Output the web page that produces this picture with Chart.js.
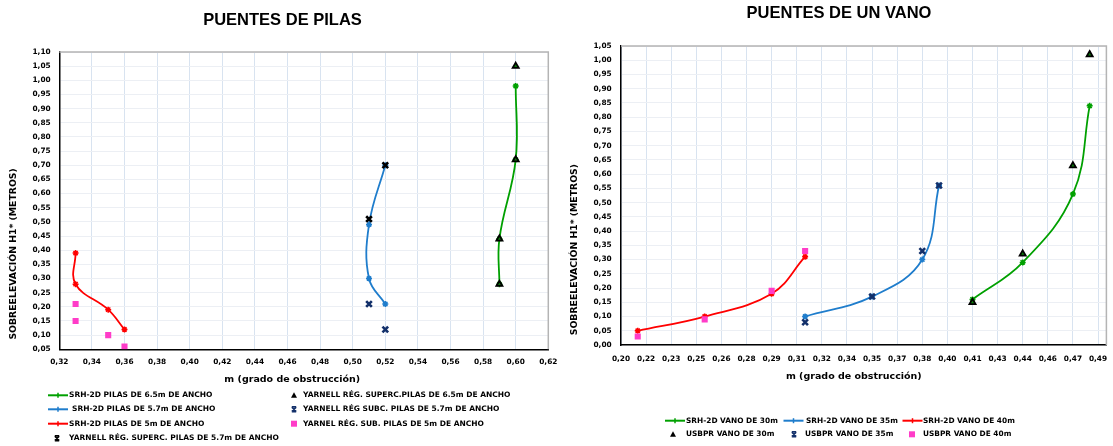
<!DOCTYPE html>
<html><head><meta charset="utf-8">
<script src="https://cdn.jsdelivr.net/npm/chart.js@4.4.0/dist/chart.umd.min.js"></script>
<style>
html,body{margin:0;padding:0;background:#fff;overflow:hidden;}
#wrap{position:relative;width:1113px;height:446px;}
canvas{position:absolute;top:0;}
#c1{left:0;} #c2{left:565px;}
</style></head><body>
<div id="wrap"><canvas id="c1" width="565" height="446"></canvas><canvas id="c2" width="548" height="446"></canvas></div>
<script>
// ---------- PUENTES DE PILAS ----------
const pilasSrh65X = [0.60, 0.60, 0.59, 0.59];
const pilasSrh65Y = [0.98, 0.72, 0.44, 0.28];
const pilasYarSup65X = [0.60, 0.60, 0.59, 0.59];
const pilasYarSup65Y = [1.05, 0.72, 0.44, 0.28];
const pilasSrh57X = [0.52, 0.51, 0.51, 0.52];
const pilasSrh57Y = [0.70, 0.49, 0.30, 0.21];
const pilasYarSup57X = [0.52, 0.51];
const pilasYarSup57Y = [0.70, 0.51];
const pilasYarSub57X = [0.51, 0.52];
const pilasYarSub57Y = [0.21, 0.12];
const pilasSrh5X = [0.33, 0.33, 0.35, 0.36];
const pilasSrh5Y = [0.39, 0.28, 0.19, 0.12];
const pilasYarSub5X = [0.33, 0.33, 0.35, 0.36];
const pilasYarSub5Y = [0.21, 0.15, 0.10, 0.06];
const pilasXTicks = [0.32,0.34,0.36,0.38,0.40,0.42,0.44,0.46,0.48,0.50,0.52,0.54,0.56,0.58,0.60,0.62];
const pilasXTickLabels = ['0,32','0,34','0,36','0,38','0,40','0,42','0,44','0,46','0,48','0,50','0,52','0,54','0,56','0,58','0,60','0,62'];

// ---------- PUENTES DE UN VANO ----------
const vanoSrh30X = [0.41, 0.44, 0.47, 0.48];
const vanoSrh30Y = [0.16, 0.29, 0.53, 0.84];
const vanoUsb30X = [0.41, 0.44, 0.47, 0.48];
const vanoUsb30Y = [0.15, 0.32, 0.63, 1.02];
const vanoSrh35X = [0.31, 0.35, 0.38, 0.39];
const vanoSrh35Y = [0.10, 0.17, 0.30, 0.56];
const vanoUsb35X = [0.31, 0.35, 0.38, 0.39];
const vanoUsb35Y = [0.08, 0.17, 0.33, 0.56];
const vanoSrh40X = [0.21, 0.25, 0.29, 0.31];
const vanoSrh40Y = [0.05, 0.10, 0.18, 0.31];
const vanoUsb40X = [0.21, 0.25, 0.29, 0.31];
const vanoUsb40Y = [0.03, 0.09, 0.19, 0.33];
const vanoXTicks = [0.20,0.215,0.23,0.245,0.26,0.275,0.29,0.305,0.32,0.335,0.35,0.365,0.38,0.395,0.41,0.425,0.44,0.455,0.47,0.485];
const vanoXTickLabels = ['0,20','0,22','0,23','0,25','0,26','0,28','0,29','0,31','0,32','0,34','0,35','0,37','0,38','0,40','0,41','0,43','0,44','0,46','0,47','0,49'];

const GREEN = '#00a000', BLUE = '#1f7dcc', RED = '#ff0000', NAVY = '#13306a', PINK = '#ff3cc8', BLACK = '#000000';
const FONT = 'DejaVu Sans';

function pts(xs, ys) { return xs.map((x, i) => ({x: x, y: ys[i]})); }
function lineDs(label, xs, ys, color) {
  return {label, data: pts(xs, ys), showLine: true, borderColor: color, backgroundColor: color,
    borderWidth: 1.8, tension: 0.4, pointStyle: 'star', pointRadius: 3, pointBorderWidth: 1.5};
}
function markDs(label, xs, ys, style, color, fill, r, bw) {
  return {label, data: pts(xs, ys), showLine: false, pointStyle: style, pointRadius: r,
    borderColor: color, backgroundColor: fill, pointBorderWidth: bw};
}

const framePlugin = {
  id: 'frame',
  beforeDatasetsDraw(chart) {
    const {ctx, chartArea: a} = chart;
    ctx.save();
    ctx.strokeStyle = '#b4b4b4'; ctx.lineWidth = 1.5;
    ctx.beginPath(); ctx.moveTo(a.left, a.top); ctx.lineTo(a.right, a.top); ctx.lineTo(a.right, a.bottom); ctx.stroke();
    ctx.restore();
  }
};

function drawMark(ctx, k, x, y, c) {
  ctx.save();
  ctx.strokeStyle = c; ctx.fillStyle = c;
  if (k === 'line') {
    ctx.lineWidth = 2; ctx.beginPath(); ctx.moveTo(x - 10, y); ctx.lineTo(x + 10, y); ctx.stroke();
    ctx.lineWidth = 1.5; ctx.beginPath(); ctx.moveTo(x, y - 2.5); ctx.lineTo(x, y + 2.5); ctx.stroke();
  } else if (k === 'tri') {
    ctx.beginPath(); ctx.moveTo(x, y - 3); ctx.lineTo(x + 3, y + 2.5); ctx.lineTo(x - 3, y + 2.5); ctx.closePath(); ctx.fill();
  } else if (k === 'x') {
    ctx.lineWidth = 1.6; ctx.beginPath();
    ctx.moveTo(x - 2.2, y - 2.2); ctx.lineTo(x + 2.2, y + 2.2); ctx.moveTo(x + 2.2, y - 2.2); ctx.lineTo(x - 2.2, y + 2.2);
    ctx.moveTo(x - 2.2, y - 2.5); ctx.lineTo(x + 2.2, y - 2.5); ctx.moveTo(x - 2.2, y + 2.5); ctx.lineTo(x + 2.2, y + 2.5);
    ctx.stroke();
  } else if (k === 'sq') {
    ctx.fillRect(x - 3, y - 3, 6, 6);
  }
  ctx.restore();
}
function legendPlugin(items, size) {
  return {
    id: 'customLegend',
    afterDraw(chart) {
      const ctx = chart.ctx;
      ctx.save();
      ctx.font = 'bold ' + size + 'px "' + FONT + '"';
      ctx.textBaseline = 'middle'; ctx.textAlign = 'left'; ctx.fillStyle = '#000';
      items.forEach(it => { drawMark(ctx, it.k, it.mx, it.y, it.c); ctx.fillText(it.t, it.tx, it.y); });
      ctx.restore();
    }
  };
}

function baseOptions(o) {
  return {
    responsive: false, animation: false, devicePixelRatio: 1,
    layout: {padding: 0},
    plugins: {
      legend: {display: false}, tooltip: {enabled: false},
      title: {display: true, text: o.title, color: '#000',
        font: {family: 'Liberation Sans', size: o.titleSize, weight: 'bold', lineHeight: 1.2},
        padding: {top: o.titleTop, bottom: o.titleBottom}}
    },
    scales: {
      x: {type: 'linear', min: o.xmin, max: o.xmax,
        afterBuildTicks: s => { s.ticks = o.xTicks.map(v => ({value: v})); },
        afterFit: s => { s.height = o.xHeight; s.paddingLeft = 0; s.paddingRight = 0; },
        ticks: {autoSkip: false, maxRotation: 0, minRotation: 0, padding: o.xTickPad, color: '#000',
          font: {family: FONT, size: 7.4, weight: 'bold'}, callback: (v, i) => o.xLabels[i]},
        grid: {color: '#d8e3f0', lineWidth: 1, drawTicks: false},
        border: {display: true, color: '#000', width: 1.5},
        title: {display: true, text: o.xTitle, color: '#000',
          font: {family: FONT, size: 9.5, weight: 'bold', lineHeight: 1.2}, padding: {top: 0, bottom: o.xTitleBottom}}
      },
      y: {type: 'linear', min: o.ymin, max: o.ymax,
        afterFit: s => { s.width = o.yWidth; s.paddingTop = 0; s.paddingBottom = 0; },
        ticks: {stepSize: 0.05, padding: o.yTickPad, color: '#000',
          font: {family: FONT, size: 7.4, weight: 'bold'},
          callback: v => v.toFixed(2).replace('.', ',')},
        grid: {color: '#eceff4', lineWidth: 1, drawTicks: false},
        border: {display: true, color: '#000', width: 1.5},
        title: {display: true, text: o.yTitle, align: 'start', color: '#000',
          font: {family: FONT, size: 9.3, weight: 'bold', lineHeight: 1.2}, padding: {top: o.yTitleTop, bottom: 0}}
      },
      yRightSpace: {type: 'linear', position: 'right', display: true,
        afterFit: s => { s.width = o.padRight; s.paddingTop = 0; s.paddingBottom = 0; },
        ticks: {display: false}, grid: {display: false}, border: {display: false}, title: {display: false}
      }
    }
  };
}

// Left chart
const pilasLegend = [
  {t: 'SRH-2D PILAS DE 6.5m DE ANCHO', k: 'line', c: GREEN, mx: 58, tx: 69, y: 395.3},
  {t: 'YARNELL RÉG. SUPERC.PILAS DE 6.5m DE ANCHO', k: 'tri', c: BLACK, mx: 294, tx: 303, y: 395.3},
  {t: 'SRH-2D PILAS DE 5.7m DE ANCHO', k: 'line', c: BLUE, mx: 58, tx: 72, y: 409.3},
  {t: 'YARNELL RÉG SUBC. PILAS DE 5.7m DE ANCHO', k: 'x', c: NAVY, mx: 294, tx: 303, y: 409.3},
  {t: 'SRH-2D PILAS DE 5m DE ANCHO', k: 'line', c: RED, mx: 58, tx: 69, y: 423.7},
  {t: 'YARNEL RÉG. SUB. PILAS DE 5m DE ANCHO', k: 'sq', c: PINK, mx: 294, tx: 303, y: 423.7},
  {t: 'YARNELL RÉG. SUPERC. PILAS DE 5.7m DE ANCHO', k: 'x', c: BLACK, mx: 57, tx: 69, y: 438.3}
];
new Chart(document.getElementById('c1'), {
  type: 'scatter',
  data: {datasets: [
    markDs('YARNELL RÉG. SUPERC.PILAS DE 6.5m DE ANCHO', pilasYarSup65X, pilasYarSup65Y, 'triangle', BLACK, '#0a7a0a', 3.5, 1.8),
    markDs('YARNELL RÉG. SUPERC. PILAS DE 5.7m DE ANCHO', pilasYarSup57X, pilasYarSup57Y, 'crossRot', BLACK, BLACK, 4, 2.6),
    markDs('YARNELL RÉG SUBC. PILAS DE 5.7m DE ANCHO', pilasYarSub57X, pilasYarSub57Y, 'crossRot', NAVY, NAVY, 4, 2.6),
    markDs('YARNEL RÉG. SUB. PILAS DE 5m DE ANCHO', pilasYarSub5X, pilasYarSub5Y, 'rect', PINK, PINK, 4.3, 0),
    lineDs('SRH-2D PILAS DE 6.5m DE ANCHO', pilasSrh65X, pilasSrh65Y, GREEN),
    lineDs('SRH-2D PILAS DE 5.7m DE ANCHO', pilasSrh57X, pilasSrh57Y, BLUE),
    lineDs('SRH-2D PILAS DE 5m DE ANCHO', pilasSrh5X, pilasSrh5Y, RED)
  ]},
  options: baseOptions({
    title: 'PUENTES DE PILAS', titleSize: 16.5, titleTop: 10.1, titleBottom: 22.1, padRight: 16.7,
    xmin: 0.32, xmax: 0.62, xTicks: pilasXTicks, xLabels: pilasXTickLabels, xHeight: 96.7, xTickPad: 8.5,
    xTitle: 'm (grado de obstrucción)       ', xTitleBottom: 60.3,
    ymin: 0.05, ymax: 1.10, yWidth: 59.3, yTickPad: 8.6, yTitle: '   SOBREELEVACIÓN H1* (METROS)', yTitleTop: 7.7
  }),
  plugins: [framePlugin, legendPlugin(pilasLegend, 7.5)]
});

// Right chart
const vanoLegend = [
  {t: 'SRH-2D VANO DE 30m', k: 'line', c: GREEN, mx: 110, tx: 121, y: 420.7},
  {t: 'SRH-2D VANO DE 35m', k: 'line', c: BLUE, mx: 228.5, tx: 241, y: 420.7},
  {t: 'SRH-2D VANO DE 40m', k: 'line', c: RED, mx: 347.5, tx: 358, y: 420.7},
  {t: 'USBPR VANO DE 30m', k: 'tri', c: BLACK, mx: 108, tx: 121, y: 434.3},
  {t: 'USBPR VANO DE 35m', k: 'x', c: NAVY, mx: 229, tx: 240, y: 434.3},
  {t: 'USBPR VANO DE 40m', k: 'sq', c: PINK, mx: 347, tx: 358, y: 434.3}
];
new Chart(document.getElementById('c2'), {
  type: 'scatter',
  data: {datasets: [
    markDs('USBPR VANO DE 30m', vanoUsb30X, vanoUsb30Y, 'triangle', BLACK, '#0a7a0a', 3.5, 1.8),
    markDs('USBPR VANO DE 35m', vanoUsb35X, vanoUsb35Y, 'crossRot', NAVY, NAVY, 4, 2.6),
    markDs('USBPR VANO DE 40m', vanoUsb40X, vanoUsb40Y, 'rect', PINK, PINK, 4.3, 0),
    lineDs('SRH-2D VANO DE 30m', vanoSrh30X, vanoSrh30Y, GREEN),
    lineDs('SRH-2D VANO DE 35m', vanoSrh35X, vanoSrh35Y, BLUE),
    lineDs('SRH-2D VANO DE 40m', vanoSrh40X, vanoSrh40Y, RED)
  ]},
  options: baseOptions({
    title: 'PUENTES DE UN VANO', titleSize: 16.5, titleTop: 3.1, titleBottom: 23.1, padRight: 6.3,
    xmin: 0.20, xmax: 0.49, xTicks: vanoXTicks, xLabels: vanoXTickLabels, xHeight: 101, xTickPad: 9.5,
    xTitle: 'm (grado de obstrucción)      ', xTitleBottom: 63.3,
    ymin: 0, ymax: 1.05, yWidth: 56, yTickPad: 9.3, yTitle: '   SOBREELEVACIÓN H1* (METROS)', yTitleTop: 4.4
  }),
  plugins: [framePlugin, legendPlugin(vanoLegend, 7.4)]
});
</script>
</body></html>
